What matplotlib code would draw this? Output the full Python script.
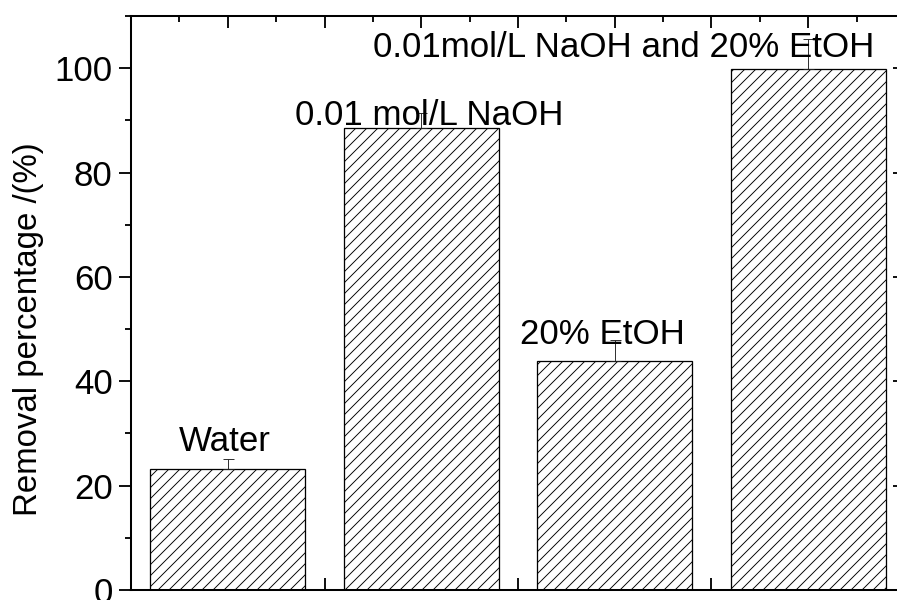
import numpy as np
import matplotlib
matplotlib.use('Agg')
import matplotlib.pyplot as plt

plt.rcParams['font.family'] = ['Liberation Sans', 'DejaVu Sans']
plt.rcParams['hatch.linewidth'] = 1.0

# removal efficiency for each washing solution
labels = ['Water', '0.01 mol/L NaOH', '20% EtOH', '0.01mol/L NaOH and 20% EtOH']
removal = [23.1, 88.5, 43.9, 99.8]
removal_err = [2.1, 3.0, 4.0, 5.7]
positions = [1, 3, 5, 7]

# where the label for each bar sits (x, baseline y) in data units
label_x = [0.97, 3.08, 4.87, 5.09]
label_y = [26.7, 89.1, 47.1, 102.1]

dpi = 66
fig = plt.figure(figsize=(897 / dpi, 600 / dpi), dpi=dpi)
ax = fig.add_axes([131 / 897, 10 / 600, (905 - 131) / 897, (587 - 13) / 600])

ax.bar(positions, removal, width=1.6, color='white', edgecolor='k',
       hatch='//', linewidth=1.4, zorder=2)
ax.errorbar(positions, removal, yerr=[np.zeros(len(removal)), removal_err],
            fmt='none', ecolor='#222222', elinewidth=1.0, capsize=6, capthick=1.0, zorder=3)

for x, y, t in zip(label_x, label_y, labels):
    ax.text(x, y, t, ha='center', va='baseline', fontsize=38, zorder=4)

ax.set_xlim(0, 8)
ax.set_ylim(0, 110)
ax.set_xticks(np.arange(0, 9, 1))
ax.set_xticks(np.arange(0.5, 8, 1), minor=True)
ax.set_xticklabels([])
ax.set_yticks(np.arange(0, 101, 20))
ax.set_yticks(np.arange(10, 111, 20), minor=True)

ax.tick_params(axis='x', which='both', direction='in', top=True, bottom=True, width=2)
ax.tick_params(axis='x', which='major', length=13)
ax.tick_params(axis='x', which='minor', length=6.5)
ax.tick_params(axis='y', which='both', direction='out', left=True, right=False, width=2)
ax.tick_params(axis='y', which='major', length=13, labelsize=38, pad=7)
ax.tick_params(axis='y', which='minor', length=6.5)

# right side ticks point inward
ax2 = ax.twinx()
ax2.set_ylim(ax.get_ylim())
ax2.set_yticks(np.arange(0, 101, 20))
ax2.set_yticks(np.arange(10, 111, 20), minor=True)
ax2.set_yticklabels([])
ax2.tick_params(axis='y', which='both', direction='in', width=2)
ax2.tick_params(axis='y', which='major', length=13)
ax2.tick_params(axis='y', which='minor', length=6.5)

for a in (ax, ax2):
    for s in a.spines.values():
        s.set_linewidth(2.2)

ax.set_ylabel('Removal percentage /(%)', fontsize=36)
ax.yaxis.set_label_coords(-0.112, 0.454)

fig.savefig('out.png', dpi=dpi)
